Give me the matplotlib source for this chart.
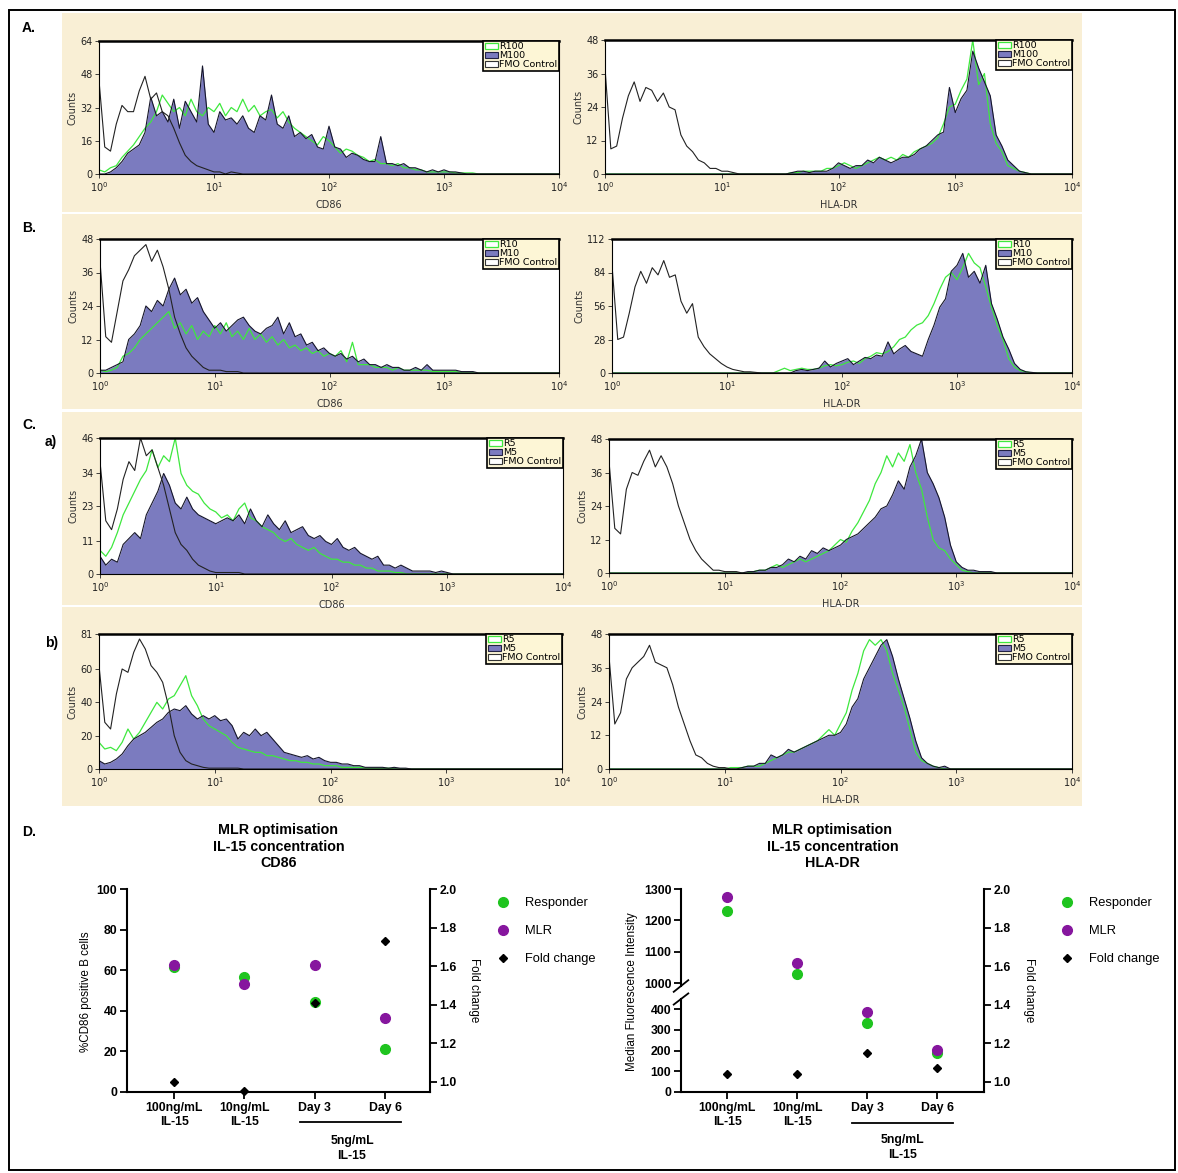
import numpy as np
import matplotlib.pyplot as plt
import matplotlib.transforms as mtransforms
from matplotlib.patches import Rectangle, Patch
from matplotlib.lines import Line2D
from matplotlib.ticker import NullLocator, FormatStrFormatter

plt.rcParams['mathtext.default'] = 'regular'

W, H = 1178, 1173
STEP = 0.05   # width of one channel, in decades

# ---- flow histograms: counts per channel, first channel given as log10 start ----
# A. 100 ng/mL
a_cd86_r_start, a_cd86_r = 0.0, [2, 1, 3, 4, 8, 11, 14, 18, 22, 25, 30, 38, 34, 30, 32, 28, 36, 30, 28, 32,
                                 30, 34, 28, 32, 30, 36, 30, 33, 28, 30, 31, 27, 30, 25, 22, 20, 18, 16, 14, 18,
                                 16, 13, 10, 12, 11, 9, 8, 6, 7, 5, 5, 4, 5, 3, 3, 2, 2, 1, 1, 1,
                                 1, 1, 0.5, 0.5, 0.5, 0.5]
a_cd86_m_start, a_cd86_m = 0.1, [1, 3, 6, 10, 12, 14, 20, 37, 28, 30, 25, 36, 22, 35, 30, 25, 52, 24, 20, 30,
                                 26, 27, 24, 28, 22, 20, 28, 26, 38, 24, 22, 28, 18, 20, 17, 19, 13, 12, 23, 13,
                                 12, 8, 10, 9, 7, 6, 6, 18, 5, 5, 4, 5, 3, 3, 2, 1, 2, 1, 2, 1, 1, 0.5]
a_cd86_f_start, a_cd86_f = 0.0, [45, 13, 11, 24, 33, 30, 30, 40, 47, 36, 39, 30, 28, 22, 15, 9, 6, 4, 3, 2,
                                 1, 1, 0, 1, 0.5]
a_hla_r_start, a_hla_r = 1.6, [0.5, 0.5, 1, 1, 1, 1, 2, 2, 3, 4, 3, 2, 3, 4, 5, 6, 5, 6, 5, 7,
                               6, 8, 9, 10, 11, 13, 18, 24, 25, 30, 34, 48, 32, 36, 18, 11, 8, 3, 2, 1, 0.5]
a_hla_m_start, a_hla_m = 1.6, [0.5, 1, 1, 0.5, 1, 1, 1, 2, 4, 3, 2, 3, 3, 5, 4, 6, 5, 4, 5, 6,
                               6, 7, 9, 10, 12, 14, 15, 31, 22, 27, 30, 44, 38, 33, 28, 14, 10, 5, 3, 1, 0.5]
a_hla_f_start, a_hla_f = 0.0, [38, 9, 10, 20, 28, 33, 26, 31, 30, 26, 29, 24, 23, 14, 10, 8, 5, 4, 2, 2,
                               1, 1, 0.5]

# B. 10 ng/mL
b_cd86_r_start, b_cd86_r = 0.0, [1, 0.5, 1, 2, 6, 7, 9, 12, 14, 16, 18, 20, 22, 16, 18, 14, 17, 12, 15, 13,
                                 17, 14, 18, 13, 15, 12, 16, 12, 14, 11, 13, 10, 12, 9, 10, 8, 9, 7, 8, 6,
                                 7, 6, 8, 4, 11, 3, 3, 3, 2, 2, 2, 1, 2, 1, 1, 1, 1, 1, 0.5, 0.5,
                                 0.5, 0.5, 0.5]
b_cd86_m_start, b_cd86_m = 0.0, [1, 1, 2, 3, 4, 12, 14, 17, 24, 22, 26, 24, 30, 34, 28, 30, 25, 27, 22, 19,
                                 16, 18, 15, 17, 19, 20, 17, 15, 14, 16, 17, 20, 14, 18, 13, 14, 10, 11, 8, 9,
                                 7, 6, 7, 5, 6, 4, 5, 3, 3, 2, 3, 2, 2, 1, 1, 2, 1, 3, 1, 1,
                                 1, 1, 1, 0.5, 0.5, 0.5]
b_cd86_f_start, b_cd86_f = 0.0, [40, 13, 11, 22, 33, 37, 42, 44, 46, 40, 44, 38, 30, 20, 14, 9, 6, 4, 2, 1,
                                 1, 1, 0.5, 0.5, 0.5]
b_hla_r_start, b_hla_r = 1.45, [2, 4, 2, 3, 4, 3, 3, 4, 6, 7, 6, 7, 9, 10, 8, 12, 14, 17, 16, 18,
                                22, 28, 30, 36, 40, 42, 48, 58, 70, 80, 84, 78, 88, 100, 92, 88, 72, 55, 40, 28,
                                12, 5, 2, 1]
b_hla_m_start, b_hla_m = 1.6, [2, 3, 2, 3, 4, 10, 5, 8, 10, 12, 7, 10, 13, 12, 15, 14, 26, 16, 20, 23,
                               18, 16, 14, 28, 40, 55, 62, 85, 90, 100, 80, 85, 75, 90, 58, 45, 30, 20, 8, 3,
                               1, 0.5]
b_hla_f_start, b_hla_f = 0.0, [90, 28, 30, 50, 72, 85, 75, 88, 82, 94, 80, 82, 60, 50, 58, 30, 22, 16, 12, 8,
                               5, 3, 2, 1, 1, 0.5]

# C a) 5 ng/mL, day 3
ca_cd86_r_start, ca_cd86_r = 0.0, [8, 6, 9, 14, 20, 24, 28, 32, 35, 42, 36, 40, 38, 46, 34, 30, 28, 27, 24, 22,
                                   21, 19, 20, 18, 22, 24, 19, 18, 16, 15, 14, 12, 11, 12, 10, 9, 8, 9, 7, 6,
                                   5, 5, 4, 4, 3, 3, 2, 2, 1, 1, 1, 0.5, 0.5]
ca_cd86_m_start, ca_cd86_m = 0.0, [6, 3, 5, 4, 10, 12, 14, 12, 20, 24, 28, 34, 30, 24, 22, 26, 22, 20, 19, 18,
                                   17, 18, 19, 18, 20, 17, 22, 18, 16, 20, 17, 15, 18, 14, 15, 16, 13, 12, 13, 11,
                                   10, 12, 9, 8, 9, 7, 6, 5, 6, 3, 3, 2, 3, 2, 1, 1, 1, 1, 0.5, 1, 0.5]
ca_cd86_f_start, ca_cd86_f = 0.0, [38, 18, 15, 22, 32, 38, 35, 46, 40, 42, 36, 30, 22, 14, 10, 8, 5, 3, 2, 1,
                                   0.5, 0.5, 0.5, 0.5, 0.5]
ca_hla_r_start, ca_hla_r = 1.25, [0.5, 1, 1, 2, 3, 2, 3, 4, 5, 4, 5, 6, 7, 8, 10, 12, 11, 15, 18, 22,
                                  26, 32, 36, 42, 38, 43, 40, 46, 36, 30, 20, 12, 9, 8, 5, 3, 1, 0.5]
ca_hla_m_start, ca_hla_m = 1.2, [0.5, 0.5, 1, 1, 2, 2, 3, 5, 4, 6, 5, 8, 7, 9, 8, 9, 10, 12, 13, 14,
                                 16, 18, 20, 23, 24, 28, 33, 30, 38, 42, 48, 36, 32, 27, 20, 10, 4, 2, 1, 1,
                                 0.5, 0.5, 0.5]
ca_hla_f_start, ca_hla_f = 0.0, [40, 16, 14, 30, 36, 35, 40, 44, 38, 42, 38, 32, 24, 18, 12, 8, 5, 3, 1, 1,
                                 0.5, 0.5, 0.5]

# C b) 5 ng/mL, day 6
cb_cd86_r_start, cb_cd86_r = 0.0, [16, 12, 13, 11, 16, 24, 18, 22, 28, 34, 40, 36, 42, 44, 50, 56, 44, 38, 30, 26,
                                   24, 22, 20, 16, 13, 12, 11, 10, 10, 8, 8, 7, 6, 5, 5, 4, 4, 3, 3, 2,
                                   2, 2, 1, 1, 1, 1, 0.5, 0.5, 0.5, 0.5, 0.5]
cb_cd86_m_start, cb_cd86_m = 0.0, [5, 3, 4, 6, 9, 14, 18, 20, 22, 25, 28, 30, 34, 36, 35, 38, 33, 30, 32, 30,
                                   32, 29, 30, 26, 18, 22, 20, 24, 20, 22, 18, 14, 10, 9, 8, 7, 8, 6, 7, 5,
                                   4, 4, 3, 3, 2, 2, 1, 1, 1, 1, 0.5, 1, 0.5, 0.5]
cb_cd86_f_start, cb_cd86_f = 0.0, [62, 28, 24, 45, 60, 58, 70, 78, 72, 62, 58, 52, 38, 20, 10, 5, 3, 2, 1, 0.5,
                                   0.5, 0.5, 0.5, 0.5, 0.5]
cb_hla_r_start, cb_hla_r = 1.05, [0.5, 0.5, 0.5, 1, 1, 1, 2, 3, 4, 5, 6, 6, 7, 8, 9, 10, 12, 14, 12, 16,
                                  20, 28, 34, 42, 46, 44, 46, 42, 34, 28, 22, 14, 6, 3, 2, 1, 0.5]
cb_hla_m_start, cb_hla_m = 1.15, [0.5, 1, 1, 2, 2, 5, 4, 5, 7, 6, 7, 8, 9, 10, 11, 12, 12, 13, 16, 22,
                                  25, 32, 36, 40, 44, 46, 40, 32, 25, 18, 10, 4, 2, 1, 0.5, 1]
cb_hla_f_start, cb_hla_f = 0.0, [40, 16, 20, 32, 36, 38, 40, 44, 38, 37, 36, 30, 22, 16, 10, 5, 4, 2, 1, 0.5,
                                 0.5]

# ---- D. summary ----
d_groups = ['100ng/mL\nIL-15', '10ng/mL\nIL-15', 'Day 3', 'Day 6']
cd86_responder = [61.5, 56.5, 44.5, 21]
cd86_mlr = [62.5, 53, 62.5, 36.5]
cd86_fold = [1.0, 0.95, 1.41, 1.73]
hla_responder = [1230, 1028, 334, 187]
hla_mlr = [1273, 1065, 386, 203]
hla_fold = [1.04, 1.04, 1.15, 1.07]

GREEN_H = '#3ee83e'
PURPLE_H = '#7b7bbf'
GREEN_D = '#1fc41f'
PURPLE_D = '#86169e'
BEIGE = '#f9efd5'


def px_rect(x0, y0, x1, y1):
    return [x0 / W, 1 - y1 / H, (x1 - x0) / W, (y1 - y0) / H]


def channels(start, values):
    grid = np.arange(0, 4 + STEP / 2, STEP)
    counts = np.zeros(len(grid))
    i0 = int(round(start / STEP))
    counts[i0:i0 + len(values)] = values
    return 10 ** grid, counts


def histogram(rect, r, m, f, yticks, xlabel, rlab, mlab):
    ax = fig.add_axes(px_rect(*rect))
    x, yr = channels(*r)
    _, ym = channels(*m)
    _, yf = channels(*f)
    ax.fill_between(x, ym, color=PURPLE_H, lw=0)
    ax.plot(x, yr, color=GREEN_H, lw=0.9)
    ax.plot(x, ym, color='#15152a', lw=0.8)
    ax.plot(x, yf, color='#222222', lw=0.8)
    ax.set_xscale('log')
    ax.set_xlim(1, 1e4)
    ax.set_ylim(0, yticks[-1])
    ax.set_xticks([1, 10, 100, 1000, 10000])
    ax.set_xticklabels(['$10^{%d}$' % i for i in range(5)])
    ax.xaxis.set_minor_locator(NullLocator())
    ax.set_yticks(yticks)
    ax.tick_params(labelsize=7, length=3, width=0.6, pad=1.5, colors='#222222')
    for s in ax.spines.values():
        s.set_linewidth(0.8)
    ax.spines['top'].set_linewidth(1.8)
    ax.set_ylabel('Counts', fontsize=7, labelpad=2, color='#333333')
    ax.set_xlabel(xlabel, fontsize=7, labelpad=4, color='#333333')
    handles = [Patch(facecolor='white', edgecolor=GREEN_H, lw=0.9, label=rlab),
               Patch(facecolor=PURPLE_H, edgecolor='#222244', lw=0.8, label=mlab),
               Patch(facecolor='white', edgecolor='#333333', lw=0.8, label='FMO Control')]
    leg = ax.legend(handles=handles, loc='upper right', bbox_to_anchor=(1, 1), borderaxespad=0,
                    fontsize=6.8, fancybox=False, edgecolor='black', facecolor='#fdf6d6', framealpha=1,
                    handlelength=1.4, handleheight=0.55, handletextpad=0.15, labelspacing=0.0,
                    borderpad=0.15)
    leg.get_frame().set_linewidth(1.2)
    return ax


fig = plt.figure(figsize=(W / 100, H / 100), dpi=100)

# outer frame and beige strips behind the histograms
fig.add_artist(Rectangle((9 / W, 1 - 1170 / H), 1166 / W, 1160 / H, transform=fig.transFigure,
                         fill=False, edgecolor='black', lw=1.4))
for y0, y1 in [(13, 212), (214, 409), (412, 605), (607, 806)]:
    fig.add_artist(Rectangle((62 / W, 1 - y1 / H), 1020 / W, (y1 - y0) / H, transform=fig.transFigure,
                             facecolor=BEIGE, edgecolor='none', zorder=-1))

histogram((99, 41, 559, 174), (a_cd86_r_start, a_cd86_r), (a_cd86_m_start, a_cd86_m),
          (a_cd86_f_start, a_cd86_f), [0, 16, 32, 48, 64], 'CD86', 'R100', 'M100')
histogram((605, 40, 1072, 174), (a_hla_r_start, a_hla_r), (a_hla_m_start, a_hla_m),
          (a_hla_f_start, a_hla_f), [0, 12, 24, 36, 48], 'HLA-DR', 'R100', 'M100')
histogram((100, 239, 559, 373), (b_cd86_r_start, b_cd86_r), (b_cd86_m_start, b_cd86_m),
          (b_cd86_f_start, b_cd86_f), [0, 12, 24, 36, 48], 'CD86', 'R10', 'M10')
histogram((612, 239, 1072, 373), (b_hla_r_start, b_hla_r), (b_hla_m_start, b_hla_m),
          (b_hla_f_start, b_hla_f), [0, 28, 56, 84, 112], 'HLA-DR', 'R10', 'M10')
histogram((100, 438, 563, 574), (ca_cd86_r_start, ca_cd86_r), (ca_cd86_m_start, ca_cd86_m),
          (ca_cd86_f_start, ca_cd86_f), [0, 11, 23, 34, 46], 'CD86', 'R5', 'M5')
histogram((609, 439, 1072, 573), (ca_hla_r_start, ca_hla_r), (ca_hla_m_start, ca_hla_m),
          (ca_hla_f_start, ca_hla_f), [0, 12, 24, 36, 48], 'HLA-DR', 'R5', 'M5')
histogram((99, 634, 562, 769), (cb_cd86_r_start, cb_cd86_r), (cb_cd86_m_start, cb_cd86_m),
          (cb_cd86_f_start, cb_cd86_f), [0, 20, 40, 60, 81], 'CD86', 'R5', 'M5')
histogram((609, 634, 1072, 769), (cb_hla_r_start, cb_hla_r), (cb_hla_m_start, cb_hla_m),
          (cb_hla_f_start, cb_hla_f), [0, 12, 24, 36, 48], 'HLA-DR', 'R5', 'M5')

# panel letters
for txt, x, y in [('A.', 22, 28), ('B.', 22, 228), ('C.', 22, 425), ('a)', 45, 442),
                  ('b)', 45, 643), ('D.', 22, 832)]:
    fig.text(x / W, 1 - y / H, txt, fontsize=10, fontweight='bold', va='center',
             family='Liberation Sans')

# ---- D panels ----
DFONT = 'Liberation Sans'
xpos = np.arange(len(d_groups))


def style_d(ax, left=True):
    for s in ['top', 'right'] if left else ['top', 'left']:
        ax.spines[s].set_visible(False)
    for s in ax.spines.values():
        s.set_linewidth(1.5)
    ax.tick_params(length=5, width=1.3, labelsize=8.8, pad=2)
    for lab in ax.get_xticklabels() + ax.get_yticklabels():
        lab.set_fontweight('bold')
        lab.set_family(DFONT)


def bracket(ax, x_text, y_line, y_text):
    tr = mtransforms.blended_transform_factory(ax.transData, ax.transAxes)
    ax.plot([1.79, 3.23], [y_line, y_line], transform=tr, color='black', lw=1.3, clip_on=False)
    ax.text(x_text, y_text, '5ng/mL\nIL-15', transform=tr, ha='center', va='center', fontsize=8.8,
            fontweight='bold', family=DFONT, linespacing=1.3)


def d_legend(ax, x0, y0):
    handles = [Line2D([], [], ls='none', marker='o', color=GREEN_D, ms=7, label='Responder'),
               Line2D([], [], ls='none', marker='o', color=PURPLE_D, ms=7, label='MLR'),
               Line2D([], [], ls='none', marker='D', color='black', ms=4.5, label='Fold change')]
    ax.legend(handles=handles, loc='upper left', bbox_to_anchor=(x0 / W, 1 - y0 / H),
              bbox_transform=fig.transFigure, frameon=False, borderpad=0, borderaxespad=0,
              prop={'family': DFONT, 'size': 9.3}, handlelength=0.9, handletextpad=1.25,
              labelspacing=1.25)


TITLE_KW = dict(fontsize=10.3, fontweight='bold', family=DFONT, pad=16, linespacing=1.2)

# left: CD86
ax = fig.add_axes(px_rect(127, 889, 430, 1092))
ax.plot(xpos, cd86_responder, 'o', color=GREEN_D, ms=7, zorder=3)
ax.plot(xpos, cd86_mlr, 'o', color=PURPLE_D, ms=7, zorder=3)
ax.set_xlim(-0.67, 3.64)
ax.set_ylim(0, 100)
ax.set_yticks([0, 20, 40, 60, 80, 100])
ax.set_xticks(xpos)
ax.set_xticklabels(d_groups, linespacing=1.25)
style_d(ax)
ax.set_title('MLR optimisation\nIL-15 concentration\nCD86', **TITLE_KW)
bracket(ax, 2.53, -0.148, -0.28)
axr = ax.twinx()
axr.plot(xpos, cd86_fold, 'D', color='black', ms=4.5, clip_on=False)
axr.set_ylim(0.947, 2.0)
axr.set_yticks([1.0, 1.2, 1.4, 1.6, 1.8, 2.0])
axr.yaxis.set_major_formatter(FormatStrFormatter('%.1f'))
style_d(axr, left=False)
axr.spines['bottom'].set_visible(False)
fig.text(86 / W, 1 - 992 / H, '%CD86 positive B cells', rotation=90, ha='center', va='center',
         fontsize=8.4, family=DFONT)
fig.text(474 / W, 1 - 990 / H, 'Fold change', rotation=270, ha='center', va='center',
         fontsize=8.4, family=DFONT)
d_legend(axr, 497, 897)

# right: HLA-DR, broken left axis
ax_top = fig.add_axes(px_rect(681, 889, 984, 986))
ax_bot = fig.add_axes(px_rect(681, 999, 984, 1092))
for a in (ax_top, ax_bot):
    a.plot(xpos, hla_responder, 'o', color=GREEN_D, ms=7, zorder=3)
    a.plot(xpos, hla_mlr, 'o', color=PURPLE_D, ms=7, zorder=3)
    a.set_xlim(-0.66, 3.67)
    a.patch.set_alpha(0)
ax_top.set_ylim(991, 1300)
ax_top.set_yticks([1000, 1100, 1200, 1300])
ax_bot.set_ylim(0, 450)
ax_bot.set_yticks([0, 100, 200, 300, 400])
ax_bot.set_xticks(xpos)
ax_bot.set_xticklabels(d_groups, linespacing=1.25)
ax_top.set_xticks([])
style_d(ax_top)
style_d(ax_bot)
ax_top.spines['bottom'].set_visible(False)
ax_top.set_title('MLR optimisation\nIL-15 concentration\nHLA-DR', **TITLE_KW)
for a, yc in ((ax_top, 0.0), (ax_bot, 1.0)):
    a.plot([-0.024, 0.024], [yc - 0.06, yc + 0.06], transform=a.transAxes, color='black', lw=1.3,
           clip_on=False)
bracket(ax_bot, 2.5, -0.33, -0.6)

ax_f = fig.add_axes(px_rect(681, 889, 984, 1092), sharex=ax_bot)
ax_f.patch.set_alpha(0)
ax_f.plot(xpos, hla_fold, 'D', color='black', ms=4.5, clip_on=False)
ax_f.set_ylim(0.947, 2.0)
ax_f.yaxis.tick_right()
ax_f.set_yticks([1.0, 1.2, 1.4, 1.6, 1.8, 2.0])
ax_f.yaxis.set_major_formatter(FormatStrFormatter('%.1f'))
ax_f.xaxis.set_visible(False)
style_d(ax_f, left=False)
ax_f.spines['bottom'].set_visible(False)
fig.text(632 / W, 1 - 992 / H, 'Median Fluorescence Intensity', rotation=90, ha='center', va='center',
         fontsize=8.4, family=DFONT)
fig.text(1029 / W, 1 - 990 / H, 'Fold change', rotation=270, ha='center', va='center',
         fontsize=8.4, family=DFONT)
d_legend(ax_f, 1061, 897)

fig.savefig('out.png', dpi=100)
